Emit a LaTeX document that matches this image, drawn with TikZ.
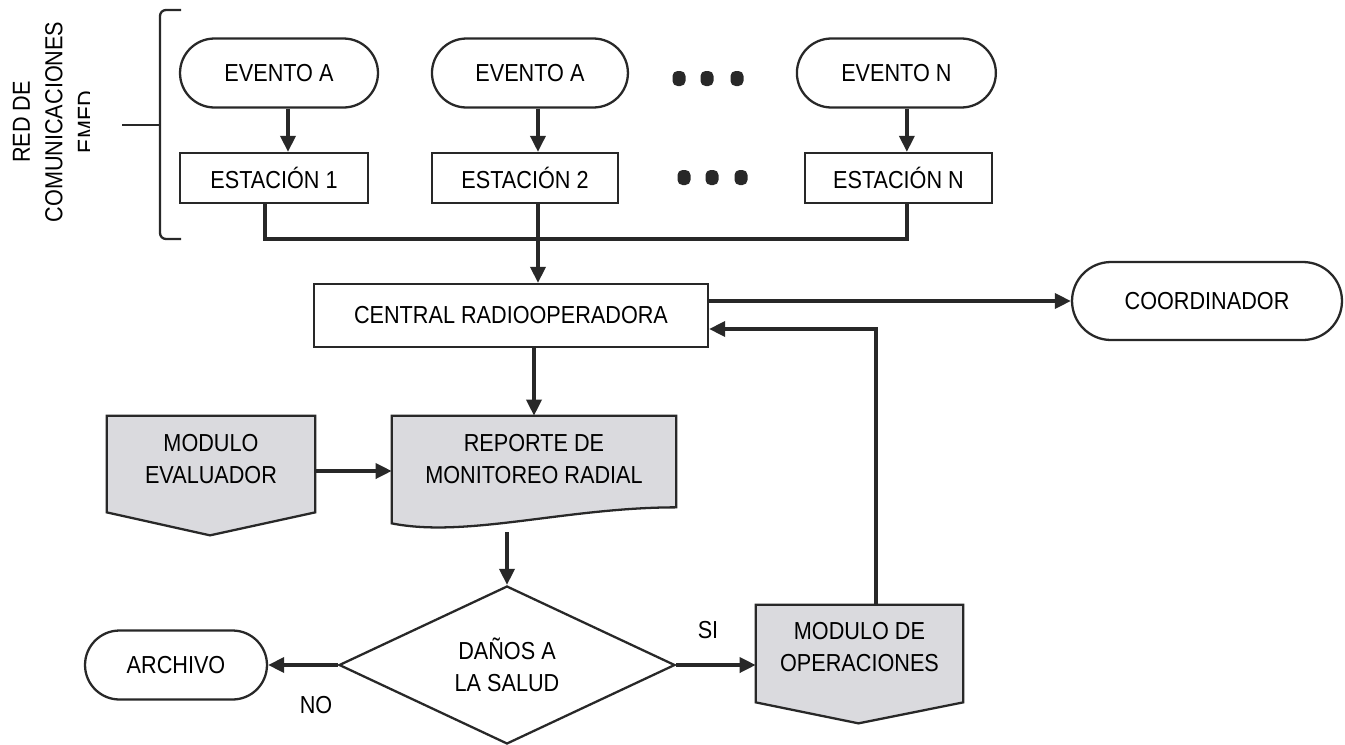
\documentclass[tikz,border=0pt]{standalone}
\usepackage{fontspec}
\setmainfont{Liberation Sans}[FakeStretch=0.88]
\usetikzlibrary{calc,positioning,arrows.meta,shapes.geometric,backgrounds}

\definecolor{lineg}{RGB}{40,40,40}
\definecolor{docg}{RGB}{218,218,222}

\tikzset{
  box/.style={draw=lineg, line width=1.3pt, minimum height=1cm},
  pill/.style={draw=lineg, line width=1.3pt, rounded corners=0.69cm, minimum height=1.38cm},
  doc/.style={draw=lineg, line width=1.3pt, fill=docg},
  conn/.style={draw=lineg, line width=2pt, ->},
}

\begin{document}
\begin{tikzpicture}[x=0.02cm,y=-0.02cm,>={Triangle[length=0.32cm,width=0.3cm]},
  every node/.style={font=\fontsize{14}{18}\selectfont, text=black, align=center, inner sep=0pt}]
  \useasboundingbox (0,0) rectangle (1345,744);
  \begin{scope}[on background layer]
    \fill[white] (0,0) rectangle (1345,744);
  \end{scope}

  % red label and brace
  \begin{scope}
    \clip (0,0) rectangle (89,744);
    \node[rotate=90, font=\fontsize{14}{18.5}\selectfont] (redlbl) at (54,122) {RED DE\\COMUNICACIONES\\EMED};
  \end{scope}
  \draw[lineg, line width=1.3pt, rounded corners=0.12cm] (181,10) -- (160,10) -- (160,239) -- (181,239);
  \draw[lineg, line width=1.3pt] (122,125) -- (160,125);

  % eventos
  \node[pill, minimum width=3.96cm] (ev1) at (279,73) {EVENTO A};
  \node[pill, minimum width=3.92cm, right of=ev1, node distance=5.02cm] (ev2) {EVENTO A};
  \node[pill, minimum width=3.98cm, right of=ev2, node distance=7.33cm] (evN) {EVENTO N};

  % estaciones
  \node[box, minimum width=3.76cm] (st1) at (274,178) {ESTACIÓN 1};
  \node[box, minimum width=3.72cm] (st2) at (525,178) {ESTACIÓN 2};
  \node[box, minimum width=3.74cm] (stN) at (898.5,178) {ESTACIÓN N};

  \foreach \x in {679,707,737}
    \fill[lineg, rounded corners=0.1cm] (\x-6.5,71) rectangle (\x+6.5,86);
  \foreach \x in {684,712,741}
    \fill[lineg, rounded corners=0.1cm] (\x-6.5,170) rectangle (\x+6.5,185);

  \foreach \e/\s/\dx in {ev1/st1/0.18, ev2/st2/0.16, evN/stN/0.21}
    \draw[conn] ([xshift=\dx cm]\e.south) -- ([xshift=\dx cm]\e.south |- \s.north);

  % central
  \node[box, minimum width=7.88cm, minimum height=1.26cm] (central) at (511,315.5) {CENTRAL RADIOOPERADORA};
  \node[pill, rounded corners=0.78cm, minimum width=5.4cm, minimum height=1.56cm] (coord) at (1207,301) {COORDINADOR};

  \coordinate (bus1) at (265,239);
  \coordinate (bus2) at (538,239);
  \coordinate (busN) at (907,239);
  \draw[conn,-] (st1.south -| bus1) -- (bus1) -- (busN) -- (stN.south -| busN);
  \draw[conn] (st2.south -| bus2) -- (central.north -| bus2);

  % modulos
  \node[minimum width=4.16cm, minimum height=1.72cm] (meval) at (211,459) {MODULO\\EVALUADOR};
  \node[minimum width=5.68cm, minimum height=1.72cm] (rep) at (534,459) {REPORTE DE\\MONITOREO RADIAL};
  \node[diamond, aspect=2.1, draw=lineg, line width=1.3pt, minimum width=6.72cm, minimum height=3.16cm] (dano) at (507,665) {DAÑOS A\\LA SALUD};
  \node[pill, minimum width=3.64cm] (arch) at (176,665) {ARCHIVO};
  \node[minimum width=4.14cm, minimum height=1.68cm] (modop) at (859.5,647) {MODULO DE\\OPERACIONES};
  \node (si) at (708,630) {SI};
  \node (no) at (316,705) {NO};

  \begin{scope}[on background layer]
    \draw[doc] (meval.north west) -- (meval.north east) -- ($(meval.south east)+(0,10)$)
      -- ($(meval.south)+(-1,33)$) -- ($(meval.south west)+(0,10)$) -- cycle;
    \draw[doc] (rep.north west) -- (rep.north east) -- ($(rep.south east)+(0,5)$)
      .. controls +(-110,0) and +(75,15) .. ($(rep.south west)+(0,21)$) -- cycle;
    \draw[doc] (modop.north west) -- (modop.north east) -- ($(modop.south east)+(0,13)$)
      -- ($(modop.south)+(-1,34)$) -- ($(modop.south west)+(0,13)$) -- cycle;
  \end{scope}

  %%%%

  \draw[conn] (central.south -| rep.north) -- (rep.north);
  \draw[conn] (central.east |- coord.west) -- (coord.west);
  \draw[conn] ([yshift=-0.24cm]meval.east) -- ([yshift=-0.24cm]meval.east -| rep.west);
  \draw[conn] ([yshift=-0.6cm]rep.south -| dano.north) -- (dano.north);
  \draw[conn] (dano.west) -- (arch.east);
  \draw[conn] (dano.east) -- (dano.east -| modop.west);
  \draw[conn] ([xshift=0.33cm]modop.north) |- ([yshift=-0.27cm]central.east);

\end{tikzpicture}
\end{document}
